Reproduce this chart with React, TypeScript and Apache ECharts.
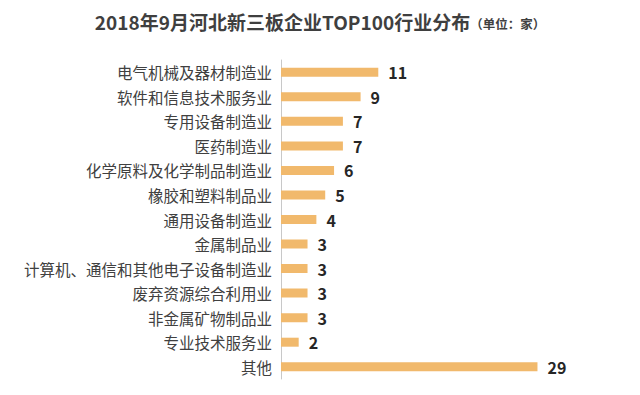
import React, { useEffect, useRef } from "react";
import * as echarts from "echarts";

const categories = [
  "电气机械及器材制造业",
  "软件和信息技术服务业",
  "专用设备制造业",
  "医药制造业",
  "化学原料及化学制品制造业",
  "橡胶和塑料制品业",
  "通用设备制造业",
  "金属制品业",
  "计算机、通信和其他电子设备制造业",
  "废弃资源综合利用业",
  "非金属矿物制品业",
  "专业技术服务业",
  "其他",
];
const values = [11, 9, 7, 7, 6, 5, 4, 3, 3, 3, 3, 2, 29];
const titleMain = "2018年9月河北新三板企业TOP100行业分布";
const titleUnit = "（单位：家）";

export default function App() {
  const ref = useRef<HTMLDivElement>(null);
  useEffect(() => {
    if (!ref.current) return;
    const chart = echarts.init(ref.current, null, { renderer: "svg" });
    chart.setOption({
      animation: false,
      backgroundColor: "#ffffff",
      title: {
        text: `{a|${titleMain}}{b|${titleUnit}}`,
        left: "center",
        top: 7,
        textStyle: {
          rich: {
            a: {
              fontFamily: "Noto Sans CJK SC",
              fontSize: 19,
              fontWeight: "bold",
              color: "#3f3f3f",
            },
            b: {
              fontFamily: "Noto Sans CJK SC",
              fontSize: 12.5,
              color: "#3f3f3f",
              padding: [3, 0, 0, 0],
            },
          },
        },
      },
      grid: { left: 281, right: 76, top: 60, bottom: 16, containLabel: false },
      xAxis: {
        type: "value",
        min: 0,
        max: 32,
        show: false,
      },
      yAxis: {
        type: "category",
        data: categories,
        inverse: true,
        axisLine: { show: true, lineStyle: { color: "#c8c8c8", width: 1 } },
        axisTick: { show: false },
        axisLabel: {
          fontFamily: "Noto Sans CJK SC",
          fontSize: 15.5,
          color: "#404040",
          margin: 9,
        },
      },
      series: [
        {
          type: "bar",
          data: values,
          barWidth: 9,
          itemStyle: { color: "#F1B96C" },
          label: {
            show: true,
            position: "right",
            distance: 10,
            fontFamily: "Noto Sans CJK SC",
            fontSize: 16,
            fontWeight: "bold",
            color: "#262626",
          },
        },
      ],
    });
    return () => chart.dispose();
  }, []);
  return <div ref={ref} style={{ width: 640, height: 395, position: "absolute", left: 0, top: 0 }} />;
}
